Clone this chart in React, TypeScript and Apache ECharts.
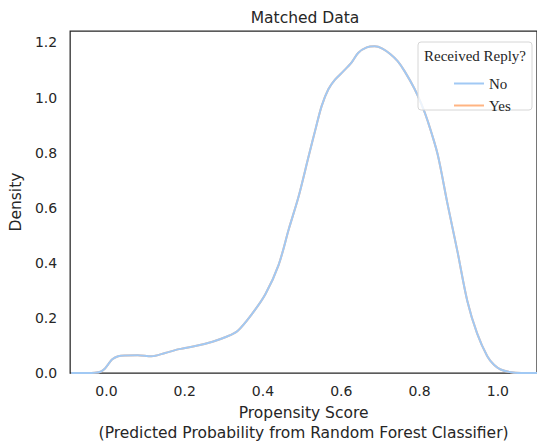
import React, { useEffect, useRef } from "react";
import * as echarts from "echarts";

const xValues = [
  -0.09, -0.05, -0.03, -0.015, -0.005, 0.005, 0.015, 0.03, 0.05, 0.08, 0.115, 0.15, 0.186, 0.23,
  0.271, 0.305, 0.335, 0.372, 0.406, 0.44, 0.466, 0.491, 0.516, 0.535, 0.55, 0.567, 0.584, 0.605,
  0.626, 0.643, 0.665, 0.685, 0.705, 0.725, 0.744, 0.762, 0.787, 0.805, 0.821, 0.846, 0.871,
  0.897, 0.922, 0.947, 0.973, 0.99, 1.007, 1.03, 1.06, 1.1,
];
const noValues = [
  0.0, 0.0, 0.001, 0.005, 0.015, 0.033, 0.05, 0.061, 0.064, 0.065, 0.061, 0.073, 0.087, 0.099,
  0.114, 0.131, 0.153, 0.215, 0.286, 0.393, 0.523, 0.641, 0.783, 0.89, 0.97, 1.03, 1.065, 1.095,
  1.127, 1.162, 1.182, 1.186, 1.178, 1.158, 1.132, 1.095, 1.032, 0.975, 0.914, 0.795, 0.617,
  0.44, 0.262, 0.144, 0.061, 0.03, 0.013, 0.004, 0.0, 0.0,
];
const yesValues = [
  0.0, 0.0, 0.001, 0.005, 0.015, 0.033, 0.05, 0.061, 0.064, 0.065, 0.061, 0.073, 0.087, 0.099,
  0.114, 0.131, 0.153, 0.215, 0.286, 0.393, 0.523, 0.641, 0.783, 0.89, 0.97, 1.03, 1.065, 1.095,
  1.127, 1.162, 1.182, 1.186, 1.178, 1.158, 1.132, 1.095, 1.032, 0.975, 0.914, 0.795, 0.617,
  0.44, 0.262, 0.144, 0.061, 0.03, 0.013, 0.004, 0.0, 0.0,
];
const xTicks = [0, 0.2, 0.4, 0.6, 0.8, 1.0];
const yTicks = [0, 0.2, 0.4, 0.6, 0.8, 1.0, 1.2];
const seriesNames = ["No", "Yes"];

const DARK = "#262626";

export default function App() {
  const ref = useRef<HTMLDivElement>(null);
  useEffect(() => {
    if (!ref.current) return;
    const chart = echarts.init(ref.current, null, { renderer: "svg" });
    chart.setOption({
      animation: false,
      backgroundColor: "#ffffff",
      grid: {
        left: 70,
        top: 31,
        width: 470,
        height: 349.5,
        show: true,
        borderColor: DARK,
        borderWidth: 1.25,
        backgroundColor: "transparent",
      },
      xAxis: {
        type: "value",
        min: -0.0926,
        max: 1.1,
        splitLine: { show: false },
        axisLine: { show: false },
        axisTick: { show: false },
        axisLabel: {
          customValues: xTicks,
          formatter: (v: number) => v.toFixed(1),
          color: DARK,
          fontFamily: "DejaVu Sans",
          fontSize: 14,
          margin: 11,
        },
        name: "Propensity Score\n(Predicted Probability from Random Forest Classifier)",
        nameLocation: "middle",
        nameGap: 26,
        nameTextStyle: {
          color: DARK,
          fontFamily: "DejaVu Sans",
          fontSize: 15.5,
          lineHeight: 20,
        },
      },
      yAxis: {
        type: "value",
        min: 0,
        max: 1.2416,
        splitLine: { show: false },
        axisLine: { show: false },
        axisTick: { show: false },
        axisLabel: {
          customValues: yTicks,
          formatter: (v: number) => v.toFixed(1),
          color: DARK,
          fontFamily: "DejaVu Sans",
          fontSize: 14,
          margin: 13,
        },
        name: "Density",
        nameLocation: "middle",
        nameGap: 37,
        nameTextStyle: {
          color: DARK,
          fontFamily: "DejaVu Sans",
          fontSize: 15.5,
        },
      },
      legend: {
        data: seriesNames,
        orient: "vertical",
        left: 449,
        top: 71,
        icon: "rect",
        itemWidth: 30,
        itemHeight: 2,
        itemGap: 7,
        z: 10,
        textStyle: {
          color: DARK,
          fontFamily: "Liberation Serif",
          fontSize: 15,
          lineHeight: 14,
        },
      },
      graphic: [
        {
          type: "text",
          x: 305,
          y: 18,
          style: {
            text: "Matched Data",
            fill: DARK,
            font: "15.5px 'DejaVu Sans'",
            textAlign: "center",
            textVerticalAlign: "middle",
          },
        },
        {
          type: "rect",
          z: 5,
          shape: { x: 418, y: 42, width: 114, height: 68, r: 3 },
          style: { fill: "rgba(255,255,255,0.8)", stroke: "#d6d6d6", lineWidth: 1 },
        },
        {
          type: "text",
          z: 6,
          x: 475,
          y: 56,
          style: {
            text: "Received Reply?",
            fill: DARK,
            font: "15px 'Liberation Serif'",
            textAlign: "center",
            textVerticalAlign: "middle",
          },
        },
      ],
      series: [
        {
          name: "Yes",
          type: "line",
          data: xValues.map((x, i) => [x, yesValues[i]]),
          showSymbol: false,
          smooth: 0.3,
          lineStyle: { color: "#ffb482", width: 2 },
          itemStyle: { color: "#ffb482" },
          z: 2,
        },
        {
          name: "No",
          type: "line",
          data: xValues.map((x, i) => [x, noValues[i]]),
          showSymbol: false,
          smooth: 0.3,
          lineStyle: { color: "#a1c9f4", width: 2 },
          itemStyle: { color: "#a1c9f4" },
          z: 3,
        },
      ],
    });
    return () => chart.dispose();
  }, []);
  return (
    <div
      ref={ref}
      style={{ position: "fixed", left: 0, top: 0, width: 537, height: 448, background: "#fff" }}
    />
  );
}
